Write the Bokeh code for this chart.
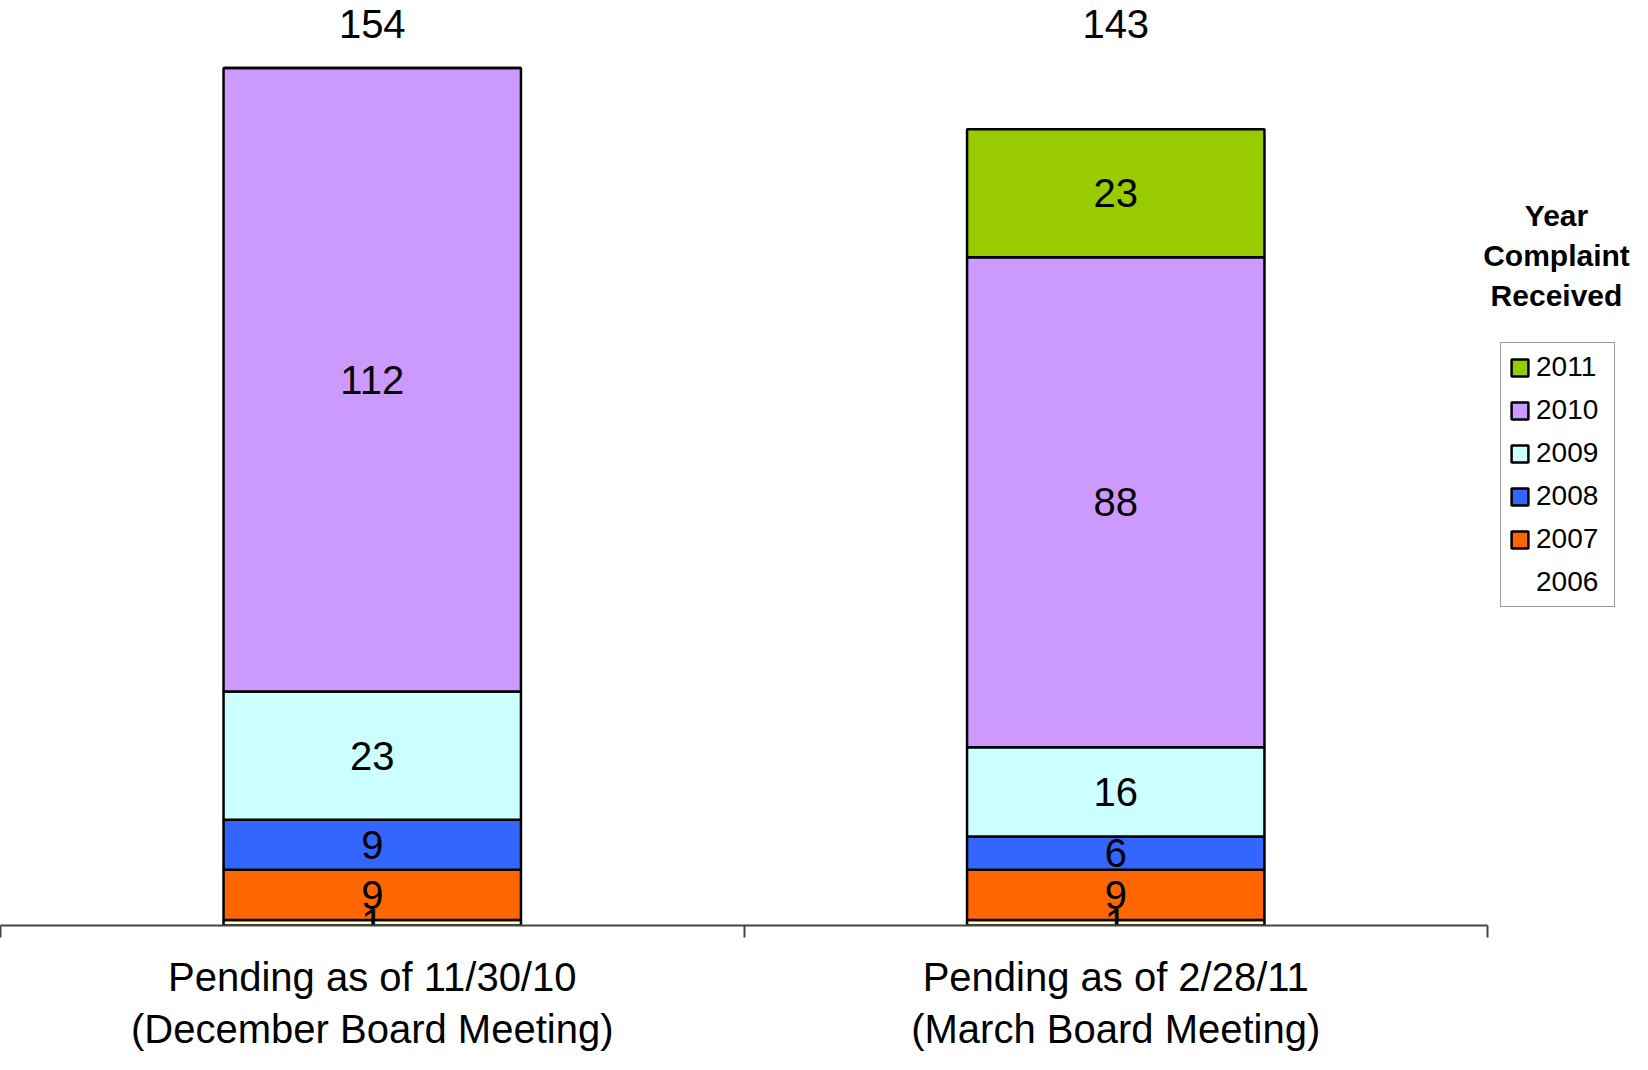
from bokeh.plotting import figure
from bokeh.models import (ColumnDataSource, Range1d, FixedTicker, Legend, LegendItem,
                          Label, LinearAxis)
from bokeh.core.properties import value
from bokeh.embed import file_html
from bokeh.resources import INLINE

# ---- data ----
categories = ["Pending as of 11/30/10\n(December Board Meeting)",
              "Pending as of 2/28/11\n(March Board Meeting)"]
years = ["2006", "2007", "2008", "2009", "2010", "2011"]
v2006 = [1, 1]
v2007 = [9, 9]
v2008 = [9, 6]
v2009 = [23, 16]
v2010 = [112, 88]
v2011 = [0, 23]
totals = [154, 143]
colors = ["#FFFFCC", "#FF6600", "#3366FF", "#CCFFFF", "#CC99FF", "#99CC00"]

series = [v2006, v2007, v2008, v2009, v2010, v2011]
xpos = [0.5 + i for i in range(len(categories))]

FONT = "Liberation Sans"
W, H = 1632, 1054
Y_END = 166.1
FRAME_H = 921
PXU = FRAME_H / Y_END

p = figure(width=W, height=H, output_backend="svg", toolbar_location=None,
           x_range=Range1d(0, W / 743.5), y_range=Range1d(0, Y_END),
           x_axis_location=None, y_axis_location=None,
           min_border_left=0, min_border_right=0, min_border_top=0,
           min_border_bottom=0)
p.outline_line_color = None
p.xgrid.visible = False
p.ygrid.visible = False
p.background_fill_color = "white"

data = {"x": xpos}
for y, s in zip(years, series):
    data[y] = s
src = ColumnDataSource(data)
rends = p.vbar_stack(years, x="x", width=0.40, source=src, color=colors,
                     line_color="black", line_width=2.5)

# segment labels
lx, ly, lt = [], [], []
for i, x in enumerate(xpos):
    base = 0
    for s in series:
        v = s[i]
        if v > 0:
            lx.append(x)
            ly.append(base + v / 2)
            lt.append(str(v))
        base += v
p.text(x=lx, y=ly, text=lt, text_font=value(FONT), text_font_size="40px",
       text_align="center", text_baseline="middle", text_color="black")

# totals
p.text(x=xpos, y=[Y_END - 23 / PXU] * len(xpos), text=[str(t) for t in totals],
       text_font=value(FONT), text_font_size="40px", text_align="center",
       text_baseline="middle", text_color="black")

# x axis
ax = LinearAxis(ticker=FixedTicker(ticks=xpos, minor_ticks=[0, 1, 2]),
                bounds=(0, 2))
ax.major_label_overrides = {x: c for x, c in zip(xpos, categories)}
ax.axis_line_color = "#444444"
ax.axis_line_width = 2
ax.major_tick_out = 0
ax.major_tick_in = 0
ax.minor_tick_out = 12
ax.minor_tick_in = 0
ax.minor_tick_line_color = "#444444"
ax.minor_tick_line_width = 2
ax.major_label_text_font = FONT
ax.major_label_text_font_size = "40px"
ax.major_label_text_color = "black"
ax.major_label_standoff = 17
p.add_layout(ax, "below")

# legend (2006 swatch not shown)
dummy = p.vbar(x=[], top=[], width=0.1, fill_alpha=0, line_alpha=0)
items = []
for y, r in reversed(list(zip(years, rends))):
    if y == "2006":
        items.append(LegendItem(label=y, renderers=[dummy]))
    else:
        items.append(LegendItem(label=y, renderers=[r]))
legend = Legend(items=items, location=(1500, FRAME_H - 603))
legend.label_text_font = FONT
legend.label_text_font_size = "28px"
legend.label_text_color = "black"
legend.glyph_width = 21
legend.glyph_height = 21
legend.label_height = 29
legend.label_width = 70
legend.label_standoff = 6
legend.spacing = 11
legend.padding = 8
legend.margin = 0
legend.border_line_color = "#333333"
legend.border_line_width = 1.5
legend.background_fill_alpha = 1
p.add_layout(legend)

title = Label(x=1556, y=FRAME_H - 251, x_units="screen", y_units="screen",
              text="Year\nComplaint\nReceived", text_align="center",
              text_baseline="middle", text_font=FONT, text_font_size="30px",
              text_font_style="bold", text_line_height=1.2, text_color="black")
p.add_layout(title)

open("out.html", "w").write(file_html(p, INLINE))
